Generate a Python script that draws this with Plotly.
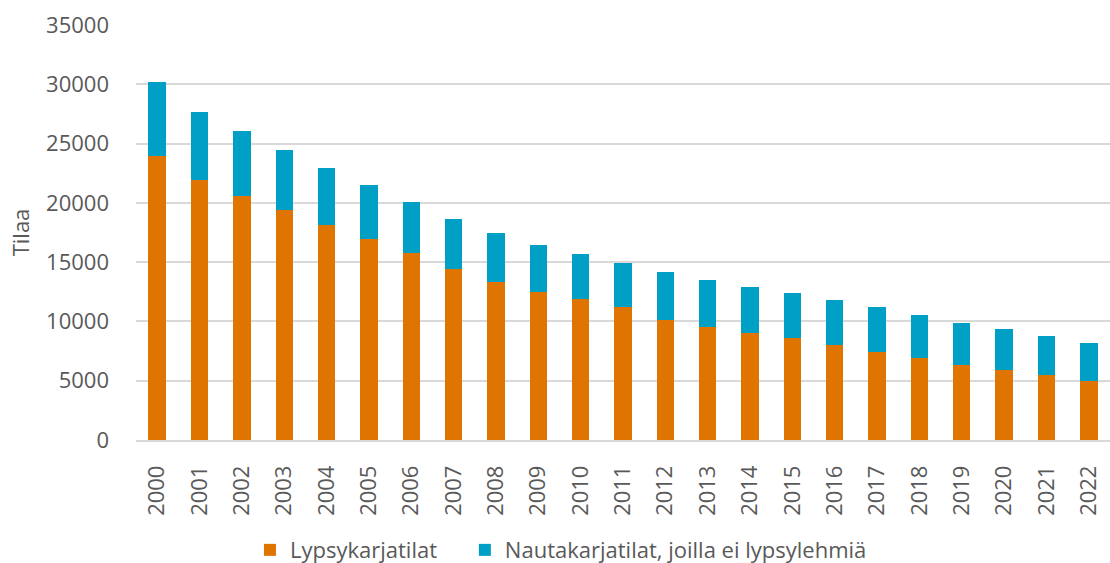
import plotly.graph_objects as go

# vuodet ja tilojen määrät (luettu kuvasta)
years = [str(y) for y in range(2000, 2023)]
lypsykarja = [23950, 21920, 20600, 19420, 18130, 16950, 15740, 14390, 13300, 12480,
              11860, 11210, 10140, 9540, 9000, 8580, 8010, 7450, 6910, 6320,
              5880, 5460, 4980]
totals = [30160, 27630, 26050, 24450, 22910, 21530, 20070, 18610, 17450, 16410,
          15660, 14920, 14140, 13460, 12900, 12420, 11830, 11190, 10570, 9870,
          9330, 8790, 8180]
nauta_ei_lypsy = [t - l for t, l in zip(totals, lypsykarja)]

y_ticks = [0, 5000, 10000, 15000, 20000, 25000, 30000, 35000]

txt = '#595959'
font_family = 'Open Sans, Noto Sans, sans-serif'

fig = go.Figure()
fig.add_trace(go.Bar(x=years, y=lypsykarja, name='Lypsykarjatilat' + '\u00a0' * 4,
                     marker=dict(color='#E07400', line=dict(width=0))))
fig.add_trace(go.Bar(x=years, y=nauta_ei_lypsy, name='Nautakarjatilat, joilla ei lypsylehmiä',
                     marker=dict(color='#00A0C6', line=dict(width=0))))

fig.update_layout(
    barmode='stack',
    bargap=0.59,
    width=1110, height=563,
    margin=dict(l=136, r=0, t=25, b=123),
    paper_bgcolor='white', plot_bgcolor='white',
    font=dict(family=font_family, size=22, color=txt),
    legend=dict(orientation='h', x=0.117, xanchor='left', yref='container', y=0.023,
                yanchor='middle', font=dict(size=22, color=txt), itemwidth=30,
                traceorder='normal'),
    showlegend=True,
)
fig.update_yaxes(range=[0, 35000], tickvals=y_ticks, ticktext=[str(v) for v in y_ticks],
                 showgrid=True, gridcolor='#D9D9D9', gridwidth=1.5, zeroline=False,
                 tickfont=dict(size=22, color=txt), ticks='', ticklabelstandoff=26,
                 automargin=False,
                 title=dict(text='Tilaa', font=dict(size=22, color=txt), standoff=10))
fig.update_xaxes(tickangle=-90, tickfont=dict(size=22, color=txt), showline=True,
                 linecolor='#D9D9D9', linewidth=1.5, ticks='', showgrid=False,
                 ticklabelstandoff=15, automargin=False)

fig.write_html("out.html", config={'displayModeBar': False})

# ilman body-marginaalia kuva ei skaalaudu ikkunassa
with open("out.html", encoding="utf-8") as f:
    html = f.read()
html = html.replace("<head>", "<head><style>body{margin:0;overflow:hidden}</style>", 1)
with open("out.html", "w", encoding="utf-8") as f:
    f.write(html)
